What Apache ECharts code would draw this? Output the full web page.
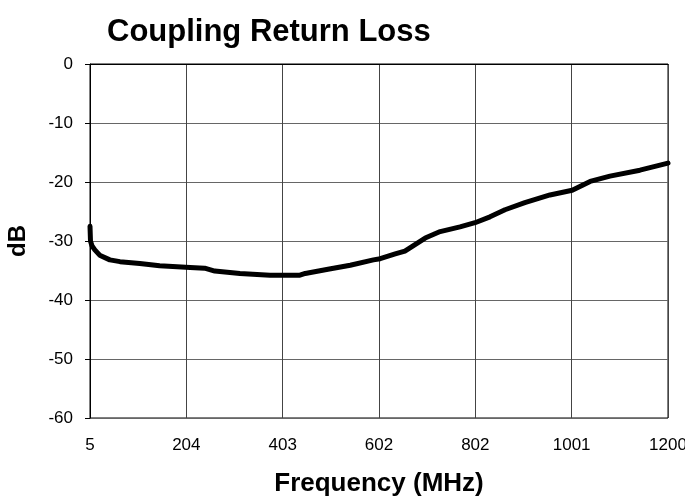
<!DOCTYPE html>
<html>
<head>
<meta charset="utf-8">
<script src="https://cdn.jsdelivr.net/npm/echarts@6/dist/echarts.min.js"></script>
<style>
  html, body { margin: 0; padding: 0; background: #fff; }
  #chart { width: 685px; height: 498px; }
</style>
</head>
<body>
<div id="chart"></div>
<script>
/* data */
var freqLabels = ['5', '204', '403', '602', '802', '1001', '1200'];
var yTicks = [0, -10, -20, -30, -40, -50, -60];
var freq = [5, 6, 9, 15, 25, 46, 67, 108, 149, 212, 242, 263, 315, 377, 439, 450,
            497, 543, 591, 605, 636, 656, 698, 729, 770, 801, 832, 863, 904, 956,
            1002, 1039, 1080, 1142, 1200];
var returnLoss = [-27.5, -30, -30.8, -31.5, -32.4, -33.2, -33.5, -33.8, -34.2, -34.5, -34.6, -35.1, -35.5, -35.8, -35.8, -35.5,
                  -34.8, -34.1, -33.2, -33.0, -32.2, -31.7, -29.5, -28.4, -27.6, -26.9, -25.9, -24.7, -23.5, -22.2,
                  -21.4, -19.9, -19.0, -18.0, -16.8];

(function(){
  var chart = document.getElementById('chart');
  var echart = echarts.init(chart);

  var points = [];
  for (var i = 0; i < freq.length; i++) {
    points.push([freq[i], returnLoss[i]]);
  }

  var option = {
    backgroundColor: '#fff',
    animation: false,
    title: {
      text: 'Coupling Return Loss',
      left: 102,
      top: 12,
      textStyle: {
        fontFamily: 'Liberation Sans',
        fontSize: 31,
        fontWeight: 'bold',
        color: '#000'
      }
    },
    grid: {
      left: 90,
      right: 17,
      top: 64,
      bottom: 80,
      outerBoundsMode: 'none',
      containLabel: false,
      show: true,
      borderColor: '#000',
      borderWidth: 1
    },
    xAxis: {
      type: 'value',
      min: 5,
      max: 1200,
      interval: 1195 / 6,
      name: 'Frequency (MHz)',
      nameLocation: 'middle',
      nameGap: 53,
      nameTextStyle: {
        fontFamily: 'Liberation Sans',
        fontSize: 26,
        fontWeight: 'bold',
        color: '#000'
      },
      axisLine: { show: true, lineStyle: { color: '#000', width: 1 } },
      axisTick: { show: false },
      axisLabel: {
        margin: 19,
        fontFamily: 'Liberation Sans',
        fontSize: 17,
        color: '#000',
        formatter: function (v, idx) {
          return freqLabels[idx] !== undefined ? freqLabels[idx] : '';
        }
      },
      splitLine: { show: true, lineStyle: { color: '#444', width: 1 } }
    },
    yAxis: {
      type: 'value',
      min: yTicks[yTicks.length - 1],
      max: yTicks[0],
      interval: 10,
      name: 'dB',
      nameLocation: 'middle',
      nameGap: 60,
      nameTextStyle: {
        fontFamily: 'Liberation Sans',
        fontSize: 24,
        fontWeight: 'bold',
        color: '#000'
      },
      axisLine: { show: true, lineStyle: { color: '#000', width: 1 } },
      axisTick: { show: true, length: 5, lineStyle: { color: '#000' } },
      axisLabel: {
        margin: 17,
        fontFamily: 'Liberation Sans',
        fontSize: 17,
        color: '#000'
      },
      splitLine: { show: true, lineStyle: { color: '#666', width: 1 } }
    },
    series: [
      {
        name: 'Return Loss',
        type: 'line',
        data: points,
        showSymbol: false,
        smooth: false,
        lineStyle: { color: '#000', width: 5, cap: 'round', join: 'round' },
        itemStyle: { color: '#000' }
      }
    ]
  };
  echart.setOption(option);
})();
</script>
</body>
</html>
